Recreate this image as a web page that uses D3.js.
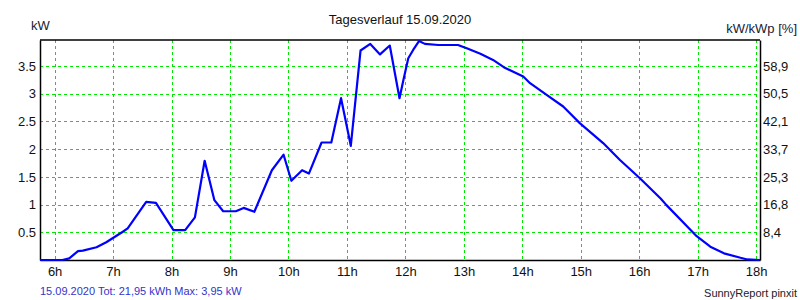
<!DOCTYPE html>
<html>
<head>
<meta charset="utf-8">
<script src="https://cdn.jsdelivr.net/npm/d3@7"></script>
<style>
  body { margin: 0; background: #fff; }
  text { font-family: "Liberation Sans", Arial, sans-serif; }
</style>
</head>
<body>
<div id="G"></div>
<script>
// data (time of day, kW)
var times = ["5:45","6:08","6:15","6:24","6:29","6:43","6:53","7:10","7:15","7:34","7:44","8:02",
  "8:14","8:24","8:34","8:44","8:53","9:06","9:14","9:25","9:43","9:55","10:03","10:14","10:21",
  "10:34","10:44","10:54","11:04","11:14","11:24","11:34","11:44","11:54","11:58","12:03","12:08",
  "12:14","12:20","12:34","12:54","13:03","13:17","13:30","13:41","14:01","14:08","14:25","14:42",
  "14:59","15:23","15:40","16:01","16:22","16:28","16:59","17:13","17:27","17:44","17:51","18:04"];
var power = [0,0,0.03,0.16,0.17,0.23,0.32,0.51,0.57,1.05,1.03,0.54,
  0.54,0.77,1.79,1.08,0.88,0.88,0.94,0.87,1.62,1.90,1.43,1.62,1.56,
  2.12,2.12,2.92,2.06,3.78,3.90,3.71,3.87,2.92,3.25,3.64,3.79,
  3.95,3.90,3.88,3.88,3.82,3.72,3.61,3.48,3.31,3.19,2.98,2.77,
  2.47,2.11,1.81,1.47,1.11,0.99,0.43,0.24,0.12,0.04,0.01,0];

var hourTicks = [6,7,8,9,10,11,12,13,14,15,16,17,18];
var kwTicks = [0.5,1,1.5,2,2.5,3,3.5];
var pctLabels = ["8,4","16,8","25,3","33,7","42,1","50,5","58,9"];

var title = "Tagesverlauf 15.09.2020";
var footLeft = "15.09.2020 Tot: 21,95 kWh Max: 3,95 kW";
var footRight = "SunnyReport pinxit";

function toHour(s) {
  var p = s.split(":");
  return +p[0] + (+p[1]) / 60;
}

var Data = times.map(function (t, i) { return { X: toHour(t), Y: power[i] }; });

var W = 800, H = 300;
var Border = { top: 40, right: 40, bottom: 40, left: 40 },
  width = W - Border.left - Border.right,
  height = H - Border.top - Border.bottom;

var svg = d3.select("#G")
  .append("svg")
  .attr("width", W)
  .attr("height", H);

var g = svg.append("g")
  .attr("transform", "translate(" + Border.left + "," + Border.top + ")");

var x = d3.scaleLinear()
  .domain([toHour("5:45"), toHour("18:04")])
  .range([0, width]);

var y = d3.scaleLinear()
  .domain([0, 3.97])
  .range([height, 0]);

// grid
var grid = g.append("g")
  .attr("stroke", "#00e600")
  .attr("stroke-width", 1)
  .attr("stroke-dasharray", "3,3")
  .attr("shape-rendering", "crispEdges");

grid.selectAll(".vx")
  .data(hourTicks)
  .enter().append("line")
  .attr("x1", d => Math.round(x(d)) + 0.5)
  .attr("x2", d => Math.round(x(d)) + 0.5)
  .attr("y1", 0)
  .attr("y2", height);

grid.selectAll(".hy")
  .data(kwTicks)
  .enter().append("line")
  .attr("x1", 0)
  .attr("x2", width)
  .attr("y1", d => Math.round(y(d)) + 0.5)
  .attr("y2", d => Math.round(y(d)) + 0.5);

// axes
g.append("g")
  .attr("transform", "translate(0," + height + ")")
  .call(d3.axisBottom(x).tickValues(hourTicks).tickSize(0).tickPadding(7).tickFormat(d => d + "h"))
  .call(a => a.select(".domain").attr("stroke", "#000").attr("stroke-width", 1.5))
  .call(a => a.selectAll("text").attr("font-size", 13).attr("fill", "#111"));

g.append("g")
  .call(d3.axisLeft(y).tickValues(kwTicks).tickSize(0).tickPadding(4).tickFormat(d => d))
  .call(a => a.select(".domain").attr("stroke", "#000").attr("stroke-width", 1.5))
  .call(a => a.selectAll("text").attr("font-size", 13).attr("fill", "#111"));

g.append("g")
  .attr("transform", "translate(" + width + ",0)")
  .call(d3.axisRight(y).tickValues(kwTicks).tickSize(0).tickPadding(3).tickFormat((d, i) => pctLabels[i]))
  .call(a => a.select(".domain").attr("stroke", "#000").attr("stroke-width", 1.5))
  .call(a => a.selectAll("text").attr("font-size", 13).attr("fill", "#111"));

g.append("line")
  .attr("x1", 0).attr("x2", width)
  .attr("y1", 0).attr("y2", 0)
  .attr("stroke", "#000").attr("stroke-width", 1.5);

// line
g.append("path")
  .datum(Data)
  .attr("fill", "none")
  .attr("stroke", "#0000ff")
  .attr("stroke-width", 2.2)
  .attr("stroke-linejoin", "round")
  .attr("d", d3.line()
    .x(function (d) { return x(d.X) })
    .y(function (d) { return y(d.Y) })
  );

// labels
svg.append("text")
  .attr("x", 400).attr("y", 24)
  .attr("text-anchor", "middle")
  .attr("font-size", 13).attr("fill", "#111")
  .text(title);

svg.append("text")
  .attr("x", 31).attr("y", 30)
  .attr("font-size", 13).attr("fill", "#1a1a33")
  .text("kW");

svg.append("text")
  .attr("x", 797).attr("y", 33)
  .attr("text-anchor", "end")
  .attr("font-size", 13).attr("fill", "#1a1a33")
  .text("kW/kWp [%]");

svg.append("text")
  .attr("x", 40).attr("y", 295)
  .attr("font-size", 11).attr("fill", "#3333cc")
  .text(footLeft);

svg.append("text")
  .attr("x", 797).attr("y", 297)
  .attr("text-anchor", "end")
  .attr("font-size", 11).attr("fill", "#222")
  .text(footRight);
</script>
</body>
</html>
